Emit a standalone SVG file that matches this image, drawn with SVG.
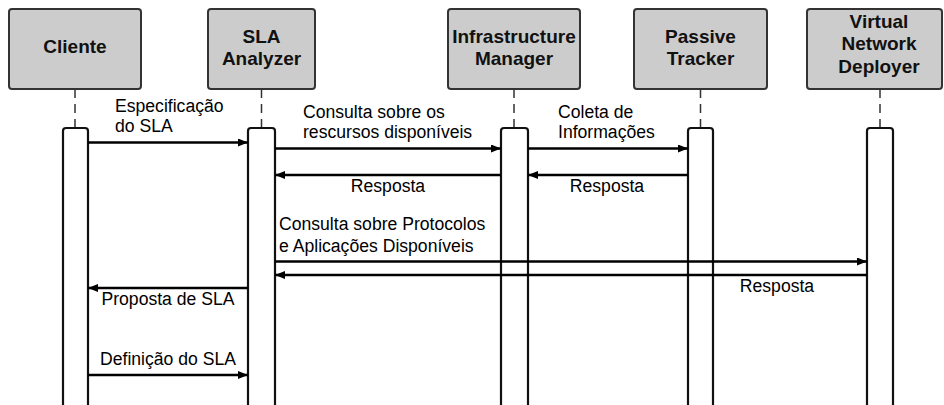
<svg xmlns="http://www.w3.org/2000/svg" width="944" height="405" viewBox="0 0 944 405">
<style>
.box{fill:#cccccc;stroke:#333333;stroke-width:2}
.hd{font-family:"Liberation Sans",Arial,sans-serif;font-weight:bold;font-size:19px;fill:#111;text-anchor:middle}
.life{stroke:#333;stroke-width:1.5;stroke-dasharray:9 6;fill:none}
.act{fill:#fff;stroke:#111;stroke-width:2.2}
.msg{stroke:#000;stroke-width:2.5;fill:none}
.lb{font-family:"Liberation Sans",Arial,sans-serif;font-size:17.6px;fill:#000}
.mid{text-anchor:middle}
</style>
<defs>
<marker id="ah" viewBox="0 0 10 8" refX="10" refY="4" markerWidth="10" markerHeight="8" markerUnits="userSpaceOnUse" orient="auto">
<path d="M0,0 L10,4 L0,8 z" fill="#000"/>
</marker>
</defs>
<rect width="944" height="405" fill="#fff"/>
<g id="cliente">
<rect class="box" x="9" y="9" width="132" height="80" rx="3"/>
<text class="hd" x="75" y="53">Cliente</text>
<line class="life" x1="75" y1="89" x2="75" y2="128"/>
<path class="act" d="M63,410 V131 Q63,128 66,128 H85 Q88,128 88,131 V410"/>
</g>
<g id="sla">
<rect class="box" x="208" y="9" width="107" height="80" rx="3"/>
<text class="hd" x="261.5" y="43">SLA</text>
<text class="hd" x="261.5" y="65">Analyzer</text>
<line class="life" x1="261.5" y1="89" x2="261.5" y2="128"/>
<path class="act" d="M248,410 V131 Q248,128 251,128 H272 Q275,128 275,131 V410"/>
</g>
<g id="infra">
<rect class="box" x="448" y="9" width="132" height="80" rx="3"/>
<text class="hd" x="514" y="43">Infrastructure</text>
<text class="hd" x="514" y="65">Manager</text>
<line class="life" x1="514" y1="89" x2="514" y2="128"/>
<path class="act" d="M501,410 V131 Q501,128 504,128 H525 Q528,128 528,131 V410"/>
</g>
<g id="passive">
<rect class="box" x="634" y="9" width="133" height="80" rx="3"/>
<text class="hd" x="700.5" y="43">Passive</text>
<text class="hd" x="700.5" y="65">Tracker</text>
<line class="life" x1="700.5" y1="89" x2="700.5" y2="128"/>
<path class="act" d="M688,410 V131 Q688,128 691,128 H710 Q713,128 713,131 V410"/>
</g>
<g id="vnd">
<rect class="box" x="807" y="9" width="135" height="80" rx="3"/>
<text class="hd" x="879" y="28">Virtual</text>
<text class="hd" x="879" y="50">Network</text>
<text class="hd" x="879" y="72.5">Deployer</text>
<line class="life" x1="880" y1="89" x2="880" y2="128"/>
<path class="act" d="M867,410 V131 Q867,128 870,128 H890 Q893,128 893,131 V410"/>
</g>
<g id="connectors">
<line class="msg" x1="88" y1="142.5" x2="248" y2="142.5" marker-end="url(#ah)"/>
<line class="msg" x1="275" y1="148.5" x2="501" y2="148.5" marker-end="url(#ah)"/>
<line class="msg" x1="528" y1="148.5" x2="688" y2="148.5" marker-end="url(#ah)"/>
<line class="msg" x1="501" y1="175" x2="275" y2="175" marker-end="url(#ah)"/>
<line class="msg" x1="688" y1="175" x2="528" y2="175" marker-end="url(#ah)"/>
<line class="msg" x1="275" y1="261.5" x2="867" y2="261.5" marker-end="url(#ah)"/>
<line class="msg" x1="867" y1="275" x2="275" y2="275" marker-end="url(#ah)"/>
<line class="msg" x1="248" y1="288" x2="88" y2="288" marker-end="url(#ah)"/>
<line class="msg" x1="88" y1="375" x2="248" y2="375" marker-end="url(#ah)"/>
</g>
<g id="labels">
<text class="lb" x="115" y="111.5">Especificação</text>
<text class="lb" x="115" y="131.5">do SLA</text>
<text class="lb" x="303" y="118">Consulta sobre os</text>
<text class="lb" x="303" y="137.5">rescursos disponíveis</text>
<text class="lb" x="558" y="118">Coleta de</text>
<text class="lb" x="558" y="137.5">Informações</text>
<text class="lb mid" x="388" y="192">Resposta</text>
<text class="lb mid" x="607" y="192">Resposta</text>
<text class="lb" x="279" y="230">Consulta sobre Protocolos</text>
<text class="lb" x="279" y="251.5">e Aplicações Disponíveis</text>
<text class="lb mid" x="777" y="292">Resposta</text>
<text class="lb mid" x="168" y="305">Proposta de SLA</text>
<text class="lb mid" x="168" y="365">Definição do SLA</text>
</g>
</svg>
